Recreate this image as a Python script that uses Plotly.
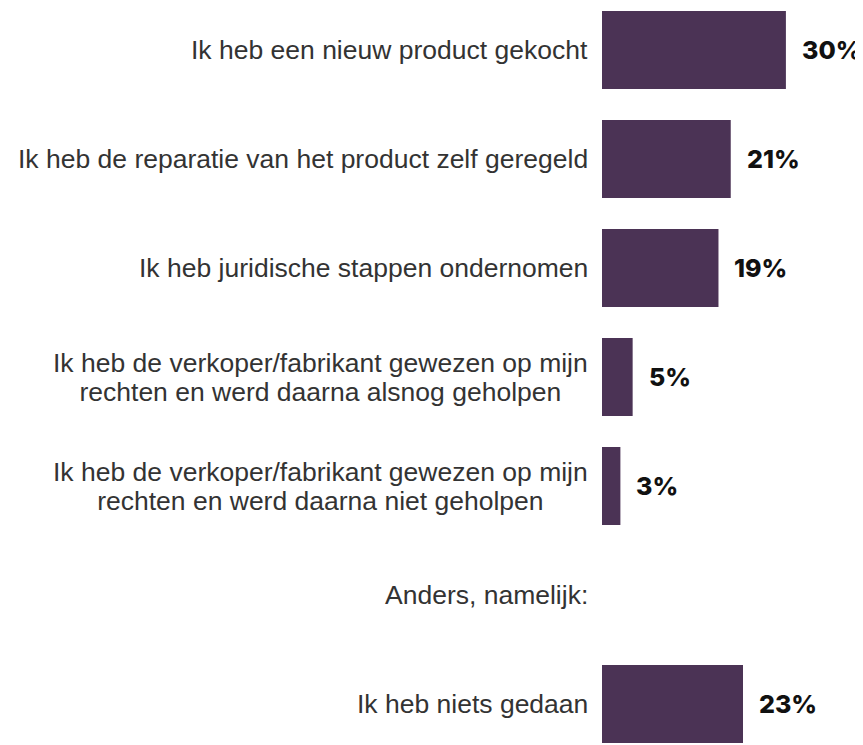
import plotly.graph_objects as go

categories = [
    "Ik heb een nieuw product gekocht",
    "Ik heb de reparatie van het product zelf geregeld",
    "Ik heb juridische stappen ondernomen",
    "Ik heb de verkoper/fabrikant gewezen op mijn<br>rechten en werd daarna alsnog geholpen",
    "Ik heb de verkoper/fabrikant gewezen op mijn<br>rechten en werd daarna niet geholpen",
    "Anders, namelijk:",
    "Ik heb niets gedaan",
]
values = [30, 21, 19, 5, 3, None, 23]
value_labels = ["30%", "21%", "19%", "5%", "3%", "", "23%"]

BAR_COLOR = "#4b3355"
LABEL_FONT = "Liberation Sans, Arial, sans-serif"
VALUE_FONT = "Inter, Lato, sans-serif"
LABEL_SIZE = 26.5
LINE_GAP = 29.2

fig = go.Figure()
fig.add_trace(go.Bar(
    y=categories,
    x=values,
    orientation="h",
    marker=dict(color=BAR_COLOR, line=dict(width=0)),
    width=0.716,
    hoverinfo="skip",
))


def styled(label):
    return "<br>".join(
        f'<span style="font-size:{LABEL_SIZE}px">{ln}</span>' for ln in label.split("<br>")
    )


annotations = []
for cat, val, lab in zip(categories, values, value_labels):
    annotations.append(dict(
        x=0, y=cat, xref="x", yref="y",
        text=styled(cat), showarrow=False,
        xanchor="right", yanchor="middle", align="center",
        xshift=-12,
        font=dict(family=LABEL_FONT, size=LINE_GAP / 1.3, color="#333333"),
    ))
    if val is not None:
        annotations.append(dict(
            x=val, y=cat, xref="x", yref="y",
            text=lab, showarrow=False,
            xanchor="left", yanchor="middle",
            xshift=14,
            font=dict(family=VALUE_FONT, size=25, color="#111111", weight=800),
        ))

fig.update_layout(
    width=863, height=745,
    margin=dict(l=594, r=0, t=0, b=0),
    paper_bgcolor="white", plot_bgcolor="white",
    showlegend=False,
    xaxis=dict(range=[0, 43.88], visible=False, fixedrange=True),
    yaxis=dict(
        type="category",
        categoryorder="array", categoryarray=categories,
        range=[6.4495, -0.3853],
        showticklabels=False, showgrid=False, zeroline=False, showline=False,
        ticks="", fixedrange=True,
    ),
    annotations=annotations,
)

fig.write_html("out.html")
